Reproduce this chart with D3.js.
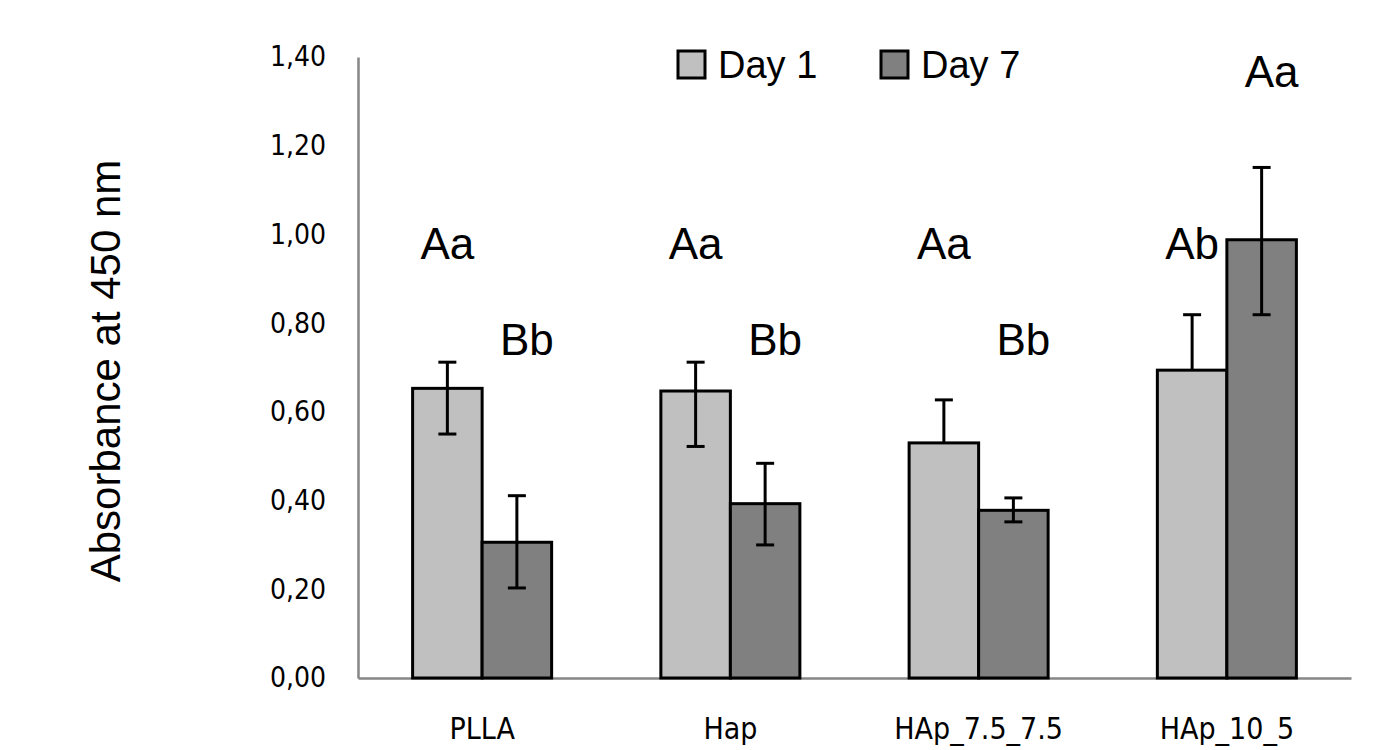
<!DOCTYPE html>
<html>
<head>
<meta charset="utf-8">
<script src="https://cdn.jsdelivr.net/npm/d3@7"></script>
<style>
  body { margin: 0; background: #fff; }
</style>
</head>
<body>
<div id="chart"></div>
<script>
// Werte
var categories = ["PLLA", "Hap", "HAp_7.5_7.5", "HAp_10_5"];
var seriesNames = ["Day 1", "Day 7"];
var day1 = [0.653, 0.647, 0.530, 0.694];
var day7 = [0.306, 0.393, 0.378, 0.988];
// Fehlerbalken (oben / unten), nicht symmetrisch
var day1ErrUp = [0.059, 0.065, 0.097, 0.125];
var day1ErrDown = [0.103, 0.125, 0, 0];
var day7ErrUp = [0.105, 0.091, 0.028, 0.163];
var day7ErrDown = [0.103, 0.093, 0.026, 0.169];
// Buchstaben der Statistik und deren Höhe (Achsenwert)
var day1Letters = ["Aa", "Aa", "Aa", "Ab"];
var day7Letters = ["Bb", "Bb", "Bb", "Aa"];
var day1LetterAt = [0.945, 0.945, 0.945, 0.945];
var day7LetterAt = [0.729, 0.729, 0.729, 1.333];
var yTicks = [0, 0.2, 0.4, 0.6, 0.8, 1.0, 1.2, 1.4];

var width = 1385, height = 750;
var margin = {top: 57, right: 34, bottom: 72, left: 358};
var colors = ["#c0c0c0", "#808080"];

var svg = d3.select("#chart").append("svg")
    .attr("width", width).attr("height", height);

var x = d3.scaleBand().domain(categories)
    .range([margin.left, width - margin.right])
    .paddingInner(0.44).paddingOuter(0.22);
var xSub = d3.scaleBand().domain(seriesNames).range([0, x.bandwidth()]);
var y = d3.scaleLinear().domain([0, 1.4]).range([height - margin.bottom, margin.top]);

var fmt = d3.formatLocale({decimal: ",", thousands: ".", grouping: [3], currency: ["", ""]}).format(".2f");

// Achsen
var yAxis = svg.append("g").attr("transform", "translate(" + margin.left + ",0)")
    .call(d3.axisLeft(y).tickValues(yTicks).tickFormat(fmt).tickSize(0).tickPadding(32));
yAxis.select(".domain").attr("stroke", "#868686").attr("stroke-width", 2.5);
yAxis.selectAll("text").attr("font-family", "DejaVu Sans Condensed").attr("font-size", 28).attr("fill", "#000");

var xAxis = svg.append("g").attr("transform", "translate(0," + y(0) + ")")
    .call(d3.axisBottom(x).tickSize(0).tickPadding(40));
xAxis.select(".domain").attr("stroke", "#868686").attr("stroke-width", 2.5);
xAxis.selectAll("text").attr("font-family", "DejaVu Sans Condensed").attr("font-size", 30).attr("fill", "#000");

var rows = categories.map(function(c, i) {
    return [
        {cat: c, s: seriesNames[0], v: day1[i], up: day1ErrUp[i], down: day1ErrDown[i], label: day1Letters[i], at: day1LetterAt[i], dx: 0},
        {cat: c, s: seriesNames[1], v: day7[i], up: day7ErrUp[i], down: day7ErrDown[i], label: day7Letters[i], at: day7LetterAt[i], dx: 10}
    ];
});
var bars = [].concat.apply([], rows);

var g = svg.append("g");
g.selectAll("rect.bar").data(bars).enter().append("rect")
    .attr("class", "bar")
    .attr("x", function(d) { return x(d.cat) + xSub(d.s); })
    .attr("y", function(d) { return y(d.v); })
    .attr("width", xSub.bandwidth())
    .attr("height", function(d) { return y(0) - y(d.v); })
    .attr("fill", function(d) { return colors[seriesNames.indexOf(d.s)]; })
    .attr("stroke", "#000").attr("stroke-width", 3);

// Fehlerbalken
var cx = function(d) { return x(d.cat) + xSub(d.s) + xSub.bandwidth() / 2; };
var err = g.selectAll("g.err").data(bars).enter().append("g").attr("class", "err")
    .attr("stroke", "#000").attr("stroke-width", 3);
err.append("line")
    .attr("x1", cx).attr("x2", cx)
    .attr("y1", function(d) { return y(d.v + d.up); })
    .attr("y2", function(d) { return y(d.v - d.down); });
err.append("line")
    .attr("x1", function(d) { return cx(d) - 9; }).attr("x2", function(d) { return cx(d) + 9; })
    .attr("y1", function(d) { return y(d.v + d.up); })
    .attr("y2", function(d) { return y(d.v + d.up); });
err.filter(function(d) { return d.down > 0; }).append("line")
    .attr("x1", function(d) { return cx(d) - 9; }).attr("x2", function(d) { return cx(d) + 9; })
    .attr("y1", function(d) { return y(d.v - d.down); })
    .attr("y2", function(d) { return y(d.v - d.down); });

// Buchstaben
g.selectAll("text.letter").data(bars).enter().append("text")
    .attr("class", "letter")
    .attr("x", function(d) { return cx(d) + d.dx; })
    .attr("y", function(d) { return y(d.at); })
    .attr("text-anchor", "middle")
    .attr("font-family", "Liberation Sans").attr("font-size", 44)
    .text(function(d) { return d.label; });

// Legende
var legend = svg.append("g").attr("transform", "translate(678,51)");
var item = legend.selectAll("g").data(seriesNames).enter().append("g")
    .attr("transform", function(d, i) { return "translate(" + (i * 203) + ",0)"; });
item.append("rect").attr("width", 27).attr("height", 27)
    .attr("fill", function(d, i) { return colors[i]; })
    .attr("stroke", "#000").attr("stroke-width", 3);
item.append("text").attr("x", 40).attr("y", 27)
    .attr("font-family", "Liberation Sans").attr("font-size", 38)
    .text(function(d) { return d; });

// Achsentitel
svg.append("text")
    .attr("transform", "translate(120,371) rotate(-90)")
    .attr("text-anchor", "middle")
    .attr("font-family", "Liberation Sans").attr("font-size", 42)
    .text("Absorbance at 450 nm");
</script>
</body>
</html>
